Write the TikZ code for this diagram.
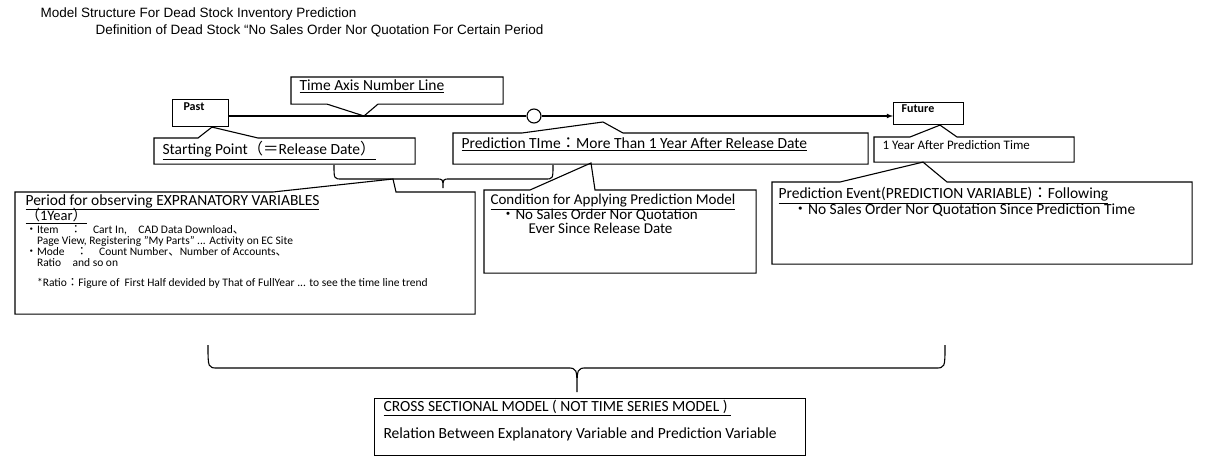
\documentclass[tikz,border=0pt]{standalone}
\usepackage{fontspec}
\setmainfont{Carlito}
\newfontfamily\headfont{Liberation Sans}
\newfontfamily\cjk{Noto Sans CJK JP}
\usetikzlibrary{positioning}
\newcommand{\jp}[1]{{\cjk #1}}
\newcommand{\tightlines}{\lineskiplimit=-30pt\relax}

\begin{document}
\begin{tikzpicture}[x=1pt,y=-1pt,line width=1.1pt,
box/.style={anchor=north west,inner sep=0pt},
txt/.style={anchor=north west,inner sep=0pt,align=left,font=\fontsize{15.5}{15}\selectfont\tightlines},
small/.style={anchor=north west,inner sep=0pt,align=left,font=\fontsize{11.5}{11}\selectfont\tightlines},
head/.style={anchor=west,inner sep=0pt,font=\headfont\fontsize{13.5}{14}\selectfont}]

 \useasboundingbox (0,0) rectangle (1206,470);
 \node[head] (title) at (40,14) {Model Structure For Dead Stock Inventory Prediction};
 \node[head] (subtitle) at (95,31) {Definition of Dead Stock “No Sales Order Nor Quotation For Certain Period};

 % time axis
 \node[box,draw,minimum width=56,minimum height=27] (past) at (172,99) {};
 \node[small,font=\bfseries\fontsize{12}{12}\selectfont] (pasttxt) at ([shift={(11,3)}]past.north west) {Past};
 \node[box,draw,minimum width=70,minimum height=22] (future) at (893,102) {};
 \node[small,font=\bfseries\fontsize{12}{12}\selectfont] (futuretxt) at ([shift={(8,2)}]future.north west) {Future};
 \node[circle,draw,fill=white,minimum size=14,inner sep=0pt] (now) at (534,116) {};
 \draw (past.east |- now) -- (now.west);
 \draw[-latex] (now.east) -- (future.west |- now);

 % callouts
 \node[box,minimum width=211,minimum height=26] (axis) at (291,77) {};
 \draw ([xshift=36]axis.south west) -- (364,116) -- ([xshift=87]axis.south west)
  -- (axis.south east) -- (axis.north east) -- (axis.north west) -- (axis.south west) -- cycle;
 \node[txt] (axistxt) at ([shift={(8,2)}]axis.north west) {\underline{Time Axis Number Line}};

 \node[box,minimum width=260,minimum height=25] (start) at (154,138) {};
 \draw ([xshift=44]start.north west) -- ([xshift=40]past.south west) -- ([xshift=104]start.north west)
  -- (start.north east) -- (start.south east) -- (start.south west) -- (start.north west) -- cycle;
 \node[txt] (starttxt) at ([shift={(8,3)}]start.north west) {\underline{Starting Point\jp{（＝}Release Date\jp{）}}};

 \node[box,minimum width=414,minimum height=30] (predtime) at (453,133) {};
 \draw ([xshift=69]predtime.north west) -- (603,122) -- ([xshift=170]predtime.north west)
  -- (predtime.north east) -- (predtime.south east) -- (predtime.south west) -- (predtime.north west) -- cycle;
 \node[txt] (predtimetxt) at ([shift={(8,4)}]predtime.north west) {\underline{Prediction TIme\jp{：}More Than 1 Year After Release Date}};

 \node[box,minimum width=199,minimum height=24] (oneyear) at (874,137) {};
 \draw ([xshift=36]oneyear.north west) -- ([xshift=47]future.south west) -- ([xshift=83]oneyear.north west)
  -- (oneyear.north east) -- (oneyear.south east) -- (oneyear.south west) -- (oneyear.north west) -- cycle;
 \node[small,font=\fontsize{13}{13}\selectfont] (oneyeartxt) at ([shift={(8,3)}]oneyear.north west) {1 Year After Prediction Time};

 % brackets
 \draw (334,165) .. controls (334,179) .. (342,179) -- (436,179) .. controls (443,179) .. (443,188)
  .. controls (443,179) .. (450,179) -- (545,179) .. controls (553,179) .. (553,165);
 \draw (208,345) .. controls (208,368) .. (218,368) -- (567,368) .. controls (577,368) .. (577,392)
  .. controls (577,368) .. (587,368) -- (935,368) .. controls (945,368) .. (945,345);

 \node[box,minimum width=459,minimum height=121] (period) at (15,192) {};
 \draw ([xshift=258]period.north west) -- (393,179) -- ([xshift=381]period.north west)
  -- (period.north east) -- (period.south east) -- (period.south west) -- (period.north west) -- cycle;
 \node[small] (periodtxt) at ([shift={(10,2)}]period.north west)
  {{\fontsize{15.5}{15}\selectfont\underline{Period for observing EXPRANATORY VARIABLES}}\\[4pt]
   {\fontsize{14.5}{15}\selectfont\underline{\jp{（}1Year\jp{）}}}\\[2pt]
   \jp{・}Item\jp{　：　}Cart In,\quad CAD Data Download\jp{、}\\
   \quad Page View,\ Registering "My Parts" ... Activity on EC Site\\
   \jp{・}Mode\jp{　：　}Count Number\jp{、}Number of Accounts\jp{、}\\
   \quad Ratio\quad and so on\\[9pt]
   \quad*Ratio\jp{：}Figure of\ \ First Half devided by That of FullYear ... to see the time line trend};

 \node[box,minimum width=271,minimum height=82] (cond) at (484,190) {};
 \draw ([xshift=46]cond.north west) -- (591,163) -- ([xshift=111]cond.north west)
  -- (cond.north east) -- (cond.south east) -- (cond.south west) -- (cond.north west) -- cycle;
 \node[txt,font=\fontsize{15}{14.5}\selectfont\tightlines] (condtxt) at ([shift={(6,4)}]cond.north west)
  {\underline{Condition for Applying Prediction Model}\\
   \hspace{10pt}\jp{・}No Sales Order Nor Quotation\\
   \hspace{38pt}Ever Since Release Date};

 \node[box,minimum width=419,minimum height=81] (event) at (772,182) {};
 \draw ([xshift=68]event.north west) -- ([xshift=49]oneyear.south west) -- ([xshift=175]event.north west)
  -- (event.north east) -- (event.south east) -- (event.south west) -- (event.north west) -- cycle;
 \node[txt,font=\fontsize{15.5}{16}\selectfont\tightlines] (eventtxt) at ([shift={(6,5)}]event.north west)
  {\underline{Prediction Event(PREDICTION VARIABLE)\jp{：}Following}\\
   \hspace{14pt}\jp{・}No Sales Order Nor Quotation Since Prediction Time};

 \node[box,draw,minimum width=431,minimum height=57] (cross) at (374,398) {};
 \node[txt] (crosstxt) at ([shift={(9,2)}]cross.north west)
  {\underline{CROSS SECTIONAL MODEL ( NOT TIME SERIES MODEL )\ }\\[12pt]
   Relation Between Explanatory Variable and Prediction Variable};
\end{tikzpicture}
\end{document}
